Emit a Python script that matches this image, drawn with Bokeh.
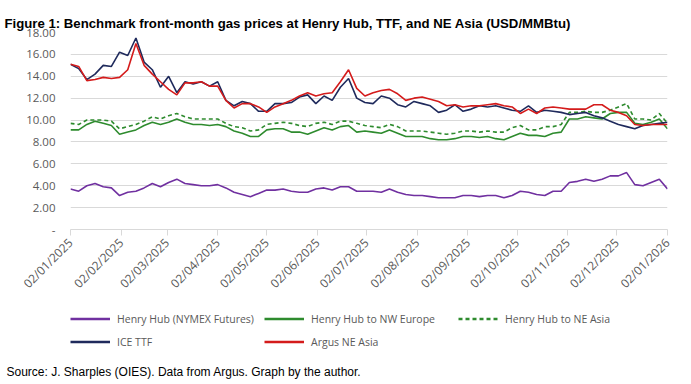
import pandas as pd
from math import pi
from bokeh.plotting import figure
from bokeh.layouts import column
from bokeh.models import (Range1d, FixedTicker, DatetimeTickFormatter, Legend,
                          LegendItem, Title, ColumnDataSource)
from bokeh.embed import file_html
from bokeh.resources import INLINE

# ---------------- data (5-day sampling) ----------------
start_date = "2025-01-02"
n_points = 74
step = "5D"

henry_hub = [3.7, 3.5, 4.0, 4.2, 3.9, 3.8, 3.1, 3.4, 3.5, 3.8,
             4.2, 3.9, 4.3, 4.6, 4.2, 4.1, 4.0, 4.0, 4.1, 3.8,
             3.4, 3.2, 3.0, 3.3, 3.6, 3.6, 3.7, 3.5, 3.4, 3.4,
             3.7, 3.8, 3.6, 3.9, 3.9, 3.5, 3.5, 3.5, 3.4, 3.7,
             3.4, 3.2, 3.1, 3.1, 3.0, 2.9, 2.9, 2.9, 3.1, 3.1,
             3.0, 3.1, 3.1, 2.9, 3.1, 3.5, 3.4, 3.2, 3.1, 3.5,
             3.5, 4.3, 4.4, 4.6, 4.4, 4.6, 4.9, 4.9, 5.2, 4.1,
             4.0, 4.3, 4.6, 3.7]

hh_nw_europe = [9.1, 9.1, 9.6, 9.9, 9.7, 9.5, 8.7, 8.9, 9.1, 9.5,
                9.8, 9.6, 9.8, 10.1, 9.8, 9.6, 9.6, 9.5, 9.6, 9.4,
                9.0, 8.8, 8.5, 8.5, 9.1, 9.2, 9.2, 8.9, 8.9, 8.7,
                9.0, 9.3, 9.1, 9.4, 9.5, 8.9, 9.0, 8.9, 8.8, 9.1,
                8.8, 8.5, 8.5, 8.5, 8.3, 8.2, 8.2, 8.3, 8.5, 8.5,
                8.4, 8.5, 8.3, 8.2, 8.5, 8.8, 8.6, 8.6, 8.5, 8.8,
                8.9, 10.1, 10.1, 10.3, 10.2, 10.1, 10.6, 10.7, 10.7, 9.7,
                9.6, 9.8, 10.1, 9.2]

hh_ne_asia = [9.7, 9.6, 10.0, 10.0, 10.0, 9.9, 9.2, 9.4, 9.6, 9.9,
              10.3, 10.1, 10.4, 10.6, 10.3, 10.1, 10.1, 10.1, 10.1, 9.7,
              9.4, 9.3, 9.0, 9.1, 9.6, 9.7, 9.8, 9.7, 9.5, 9.4,
              9.7, 9.8, 9.6, 9.9, 9.9, 9.7, 9.5, 9.4, 9.3, 9.6,
              9.4, 9.0, 9.0, 9.0, 8.9, 8.8, 8.7, 8.8, 9.0, 9.0,
              8.9, 9.0, 8.9, 8.9, 9.3, 9.5, 9.1, 9.1, 9.4, 9.4,
              9.6, 10.7, 10.7, 10.8, 10.7, 10.7, 10.9, 11.2, 11.5, 10.1,
              10.1, 10.0, 10.6, 9.7]

ice_ttf = [15.1, 14.7, 13.7, 14.2, 15.0, 14.9, 16.2, 15.9, 17.5, 15.3,
           14.6, 13.0, 14.0, 12.5, 13.5, 13.3, 13.5, 13.1, 13.5, 11.8,
           11.3, 11.7, 11.5, 10.8, 10.8, 11.5, 11.5, 11.6, 12.1, 12.3,
           11.5, 12.2, 11.8, 13.0, 13.8, 12.0, 11.6, 11.5, 12.2, 12.0,
           11.4, 11.2, 11.7, 11.5, 11.3, 10.7, 10.9, 11.4, 10.8, 11.0,
           11.3, 11.2, 11.3, 11.1, 10.9, 10.8, 11.3, 10.7, 10.9, 10.8,
           10.7, 10.5, 10.6, 10.7, 10.4, 10.2, 9.9, 9.6, 9.4, 9.2,
           9.5, 9.6, 9.7, 9.8]

argus_ne_asia = [15.1, 14.9, 13.6, 13.7, 13.9, 13.8, 13.9, 14.6, 17.0, 15.0,
                 14.2, 13.5, 12.8, 12.3, 13.4, 13.4, 13.5, 13.1, 13.1, 11.8,
                 11.1, 11.5, 11.5, 11.2, 10.7, 11.2, 11.5, 11.8, 12.2, 12.5,
                 12.2, 12.4, 12.5, 13.5, 14.6, 12.9, 12.2, 12.5, 12.7, 12.8,
                 12.4, 11.8, 12.0, 12.1, 11.9, 11.7, 11.3, 11.4, 11.2, 11.3,
                 11.3, 11.4, 11.5, 11.3, 11.2, 10.6, 11.0, 10.6, 11.1, 11.2,
                 11.1, 11.0, 11.0, 11.0, 11.4, 11.4, 10.9, 10.7, 10.4, 9.6,
                 9.5, 9.6, 9.6, 9.6]

series_keys = ["hh", "nwe", "nea", "ttf", "argus"]
series_names = ["Henry Hub (NYMEX Futures)", "Henry Hub to NW Europe",
                "Henry Hub to NE Asia", "ICE TTF", "Argus NE Asia"]

y_ticks = [0, 2, 4, 6, 8, 10, 12, 14, 16, 18]
y_tick_labels = ["-", "2.00", "4.00", "6.00", "8.00", "10.00",
                 "12.00", "14.00", "16.00", "18.00"]

title_text = "Figure 1: Benchmark front-month gas prices at Henry Hub, TTF, and NE Asia (USD/MMBtu)"
source_text = "Source: J. Sharples (OIES). Data from Argus. Graph by the author."

colors = ["#7030A0", "#2E8B2E", "#2E8B2E", "#1F2A5C", "#D41B1B"]
dashes = ["solid", "solid", "4 3", "solid", "solid"]

# ---------------- main chart ----------------
dates = pd.date_range(start_date, periods=n_points, freq=step)
src = ColumnDataSource(dict(date=dates, hh=henry_hub, nwe=hh_nw_europe,
                            nea=hh_ne_asia, ttf=ice_ttf, argus=argus_ne_asia))

tick_dates = pd.date_range("2025-01-01", "2026-01-01", freq="MS") + pd.Timedelta(days=1)
tick_ms = [t.timestamp() * 1000 for t in tick_dates]

W = 675
p = figure(width=W, height=300, x_axis_type="datetime",
           output_backend="svg", toolbar_location=None,
           x_range=Range1d(tick_ms[0], tick_ms[-1]), y_range=Range1d(0, 18),
           min_border_left=70, min_border_right=8, min_border_top=32,
           min_border_bottom=70)
p.outline_line_color = None
p.background_fill_color = "white"
p.border_fill_color = "white"

p.title.text = title_text
p.title.align = "left"
p.title.vertical_align = "top"
p.title.offset = -66
p.title.standoff = 0
p.title.text_font = "Liberation Sans"
p.title.text_font_style = "bold"
p.title.text_font_size = "13.2px"
p.title.text_color = "black"

grey = "#595959"
gridc = "#d9d9d9"

p.xgrid.grid_line_color = None
p.ygrid.grid_line_color = gridc
p.ygrid.grid_line_width = 1

p.yaxis.ticker = FixedTicker(ticks=y_ticks)
p.yaxis.major_label_overrides = {t: l for t, l in zip(y_ticks, y_tick_labels)}
p.yaxis.axis_line_color = None
p.yaxis.major_tick_line_color = None
p.yaxis.major_tick_out = 0
p.yaxis.major_tick_in = 0
p.yaxis.minor_tick_line_color = None
p.yaxis.major_label_standoff = 15
p.yaxis.major_label_text_font = "Open Sans"
p.yaxis.major_label_text_font_size = "11.5px"
p.yaxis.major_label_text_color = grey

fmt = "%d/%m/%Y"
p.xaxis.ticker = FixedTicker(ticks=tick_ms)
p.xaxis.formatter = DatetimeTickFormatter(days=fmt, months=fmt, years=fmt,
                                          hours=fmt, hourmin=fmt)
p.xaxis.axis_line_color = gridc
p.xaxis.major_tick_line_color = gridc
p.xaxis.major_tick_out = 6
p.xaxis.major_tick_in = 0
p.xaxis.minor_tick_line_color = None
p.xaxis.major_label_orientation = pi / 4
p.xaxis.major_label_text_font = "Open Sans"
p.xaxis.major_label_text_font_size = "12px"
p.xaxis.major_label_text_color = grey

for key, c, d in zip(series_keys, colors, dashes):
    p.line("date", key, source=src, color=c, line_width=1.6, line_dash=d)

# ---------------- legend + source strip ----------------
p2 = figure(width=W, height=80, output_backend="svg", toolbar_location=None,
            x_range=Range1d(0, 1), y_range=Range1d(0, 1),
            min_border_left=0, min_border_right=0, min_border_top=0,
            min_border_bottom=0)
p2.axis.visible = False
p2.grid.visible = False
p2.outline_line_color = None
p2.border_fill_color = "white"
p2.background_fill_color = "white"

# same series, drawn out of this strip's view: only their legend swatches show
legend_renderers = [p2.line("date", key, source=src, color=c, line_width=2.4,
                            line_dash=d)
                    for key, c, d in zip(series_keys, colors, dashes)]
items = [LegendItem(label=n, renderers=[r]) for n, r in
         zip(series_names, legend_renderers)]
legend = Legend(items=items, orientation="horizontal", ncols=3,
                location=(0, 14), glyph_width=40, glyph_height=17,
                label_height=17, label_width=141, label_standoff=7, spacing=6,
                padding=0, margin=0, border_line_color=None,
                background_fill_alpha=0, label_text_font="Open Sans",
                label_text_font_size="10.5px", label_text_color=grey)
p2.add_layout(legend)

p2.add_layout(Title(text=source_text, align="left", vertical_align="top",
                    offset=-64, standoff=0,
                    text_font="Liberation Sans", text_font_style="normal",
                    text_font_size="12px", text_color="black"), "below")

layout = column(p, p2, spacing=0)
open("out.html", "w").write(file_html(layout, INLINE))
